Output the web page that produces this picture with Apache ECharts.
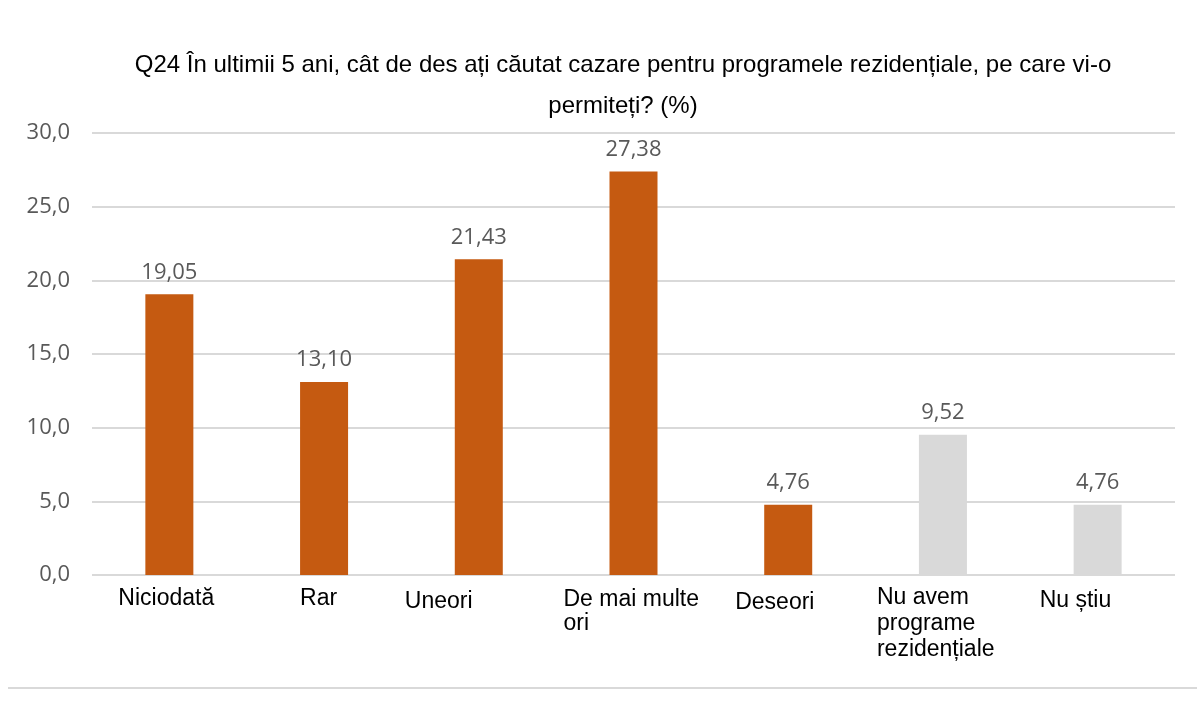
<!DOCTYPE html>
<html>
<head>
<meta charset="utf-8">
<script src="https://cdn.jsdelivr.net/npm/echarts@6/dist/echarts.min.js"></script>
<style>html,body{margin:0;padding:0;background:#fff}#c{width:1197px;height:708px}</style>
</head>
<body>
<div id="c"></div>
<script>
const titleText = 'Q24 În ultimii 5 ani, cât de des ați căutat cazare pentru programele rezidențiale, pe care vi-o\npermiteți? (%)';
const categories = ['Niciodată', 'Rar', 'Uneori', 'De mai multe\nori', 'Deseori', 'Nu avem\nprograme\nrezidențiale', 'Nu știu'];
const values = [19.05, 13.10, 21.43, 27.38, 4.76, 9.52, 4.76];
const isOther = [false, false, false, false, false, true, true];
const yTicks = { min: 0, max: 30, interval: 5 };

// label styling offsets (style only)
const labelHalfWidth = [51, 24, 74, 70, 53, 66, 58];
const labelPadTop = [2, 2, 8, 3, 10, 0, 5];

const MAIN = '#C55A11', OTHER = '#D9D9D9';

const rich = {};
categories.forEach((c, i) => {
  rich['f' + i] = { width: labelHalfWidth[i] * 2, align: 'left', padding: [labelPadTop[i], 0, 0, 0], fontSize: 23, lineHeight: 26, color: '#000', fontFamily: 'Liberation Sans' };
  rich['r' + i] = { width: labelHalfWidth[i] * 2, align: 'left', fontSize: 23, lineHeight: 26, color: '#000', fontFamily: 'Liberation Sans' };
});

const chart = echarts.init(document.getElementById('c'));
chart.setOption({
  backgroundColor: '#fff',
  animation: false,
  title: {
    text: titleText,
    left: 618, textAlign: 'center', top: 40,
    textStyle: { fontFamily: 'Liberation Sans', fontSize: 24, fontWeight: 'normal', color: '#000', lineHeight: 41 }
  },
  grid: { left: 92, right: 22, top: 133, bottom: 133, containLabel: false },
  xAxis: {
    type: 'category',
    data: categories,
    axisLine: { show: false },
    axisTick: { show: false },
    axisLabel: {
      interval: 0, margin: 10, align: 'center', verticalAlign: 'top',
      formatter: (v, i) => v.split('\n').map((line, k) => '{' + (k === 0 ? 'f' : 'r') + i + '|' + line + '}').join('\n'),
      rich: rich
    }
  },
  yAxis: {
    type: 'value', min: yTicks.min, max: yTicks.max, interval: yTicks.interval,
    axisLine: { show: false }, axisTick: { show: false },
    splitLine: { lineStyle: { color: '#D9D9D9', width: 2 } },
    axisLabel: { margin: 22, color: '#595959', fontSize: 22, fontFamily: 'Open Sans', formatter: v => v.toFixed(1).replace('.', ',') }
  },
  series: [{
    type: 'bar',
    barWidth: 48,
    data: values.map((v, i) => ({ value: v, itemStyle: { color: isOther[i] ? OTHER : MAIN } })),
    label: {
      show: true, position: 'top', distance: 11,
      color: '#595959', fontSize: 22, fontFamily: 'Open Sans',
      formatter: p => p.value.toFixed(2).replace('.', ',')
    }
  }],
  graphic: [{
    type: 'rect', left: 8, top: 687, shape: { width: 1189, height: 2 }, style: { fill: '#D9D9D9' }, silent: true
  }]
});
</script>
</body>
</html>
